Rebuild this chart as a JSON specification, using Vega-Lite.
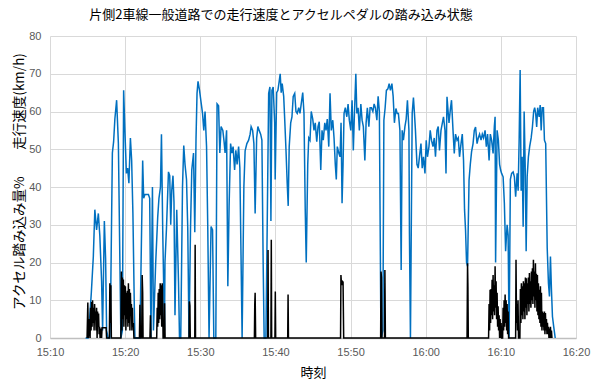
{
"$schema": "https://vega.github.io/schema/vega-lite/v6.json",
"width": 526, "height": 302,
"autosize": {"type": "none"},
"padding": {"left": 50, "top": 36, "right": 20, "bottom": 43},
"background": "white",
"title": {"text": "片側2車線一般道路での走行速度とアクセルペダルの踏み込み状態", "font": "Noto Sans CJK JP", "fontSize": 13, "fontWeight": "normal", "color": "#000000", "anchor": "middle", "dx": -32, "offset": 8},
"config": {"view": {"stroke": null}},
"datasets": {
"speed": [
{"t":"2024-01-01T15:14:44","v":0},{"t":"2024-01-01T15:15:04","v":0},{"t":"2024-01-01T15:15:16","v":5},{"t":"2024-01-01T15:15:30","v":12},{"t":"2024-01-01T15:15:46","v":21.6},{"t":"2024-01-01T15:15:58","v":34},{"t":"2024-01-01T15:16:12","v":28.6},{"t":"2024-01-01T15:16:26","v":33},{"t":"2024-01-01T15:16:38","v":27},{"t":"2024-01-01T15:16:52","v":15},{"t":"2024-01-01T15:17:00","v":2},{"t":"2024-01-01T15:17:14","v":31},{"t":"2024-01-01T15:17:24","v":21},{"t":"2024-01-01T15:17:32","v":2},{"t":"2024-01-01T15:17:44","v":0},{"t":"2024-01-01T15:17:58","v":0},{"t":"2024-01-01T15:18:06","v":15},{"t":"2024-01-01T15:18:18","v":49},{"t":"2024-01-01T15:18:28","v":52},{"t":"2024-01-01T15:18:38","v":58},{"t":"2024-01-01T15:18:52","v":63},{"t":"2024-01-01T15:19:06","v":51.5},{"t":"2024-01-01T15:19:18","v":20},{"t":"2024-01-01T15:19:26","v":0},{"t":"2024-01-01T15:19:38","v":2},{"t":"2024-01-01T15:19:48","v":65.6},{"t":"2024-01-01T15:19:58","v":55},{"t":"2024-01-01T15:20:10","v":43.6},{"t":"2024-01-01T15:20:20","v":45},{"t":"2024-01-01T15:20:30","v":41},{"t":"2024-01-01T15:20:42","v":53},{"t":"2024-01-01T15:20:52","v":47},{"t":"2024-01-01T15:21:02","v":33},{"t":"2024-01-01T15:21:14","v":6.6},{"t":"2024-01-01T15:21:18","v":0},{"t":"2024-01-01T15:21:58","v":0},{"t":"2024-01-01T15:22:20","v":47},{"t":"2024-01-01T15:22:28","v":37},{"t":"2024-01-01T15:22:38","v":38},{"t":"2024-01-01T15:23:06","v":38},{"t":"2024-01-01T15:23:16","v":37},{"t":"2024-01-01T15:23:26","v":0},{"t":"2024-01-01T15:23:38","v":40},{"t":"2024-01-01T15:23:46","v":2},{"t":"2024-01-01T15:24:04","v":20},{"t":"2024-01-01T15:24:20","v":32},{"t":"2024-01-01T15:24:30","v":37},{"t":"2024-01-01T15:24:42","v":40},{"t":"2024-01-01T15:24:50","v":54},{"t":"2024-01-01T15:25:00","v":28.6},{"t":"2024-01-01T15:25:14","v":2},{"t":"2024-01-01T15:25:18","v":20},{"t":"2024-01-01T15:25:30","v":29},{"t":"2024-01-01T15:25:46","v":44},{"t":"2024-01-01T15:25:56","v":43},{"t":"2024-01-01T15:26:04","v":30},{"t":"2024-01-01T15:26:12","v":39},{"t":"2024-01-01T15:26:22","v":43},{"t":"2024-01-01T15:26:30","v":36},{"t":"2024-01-01T15:26:38","v":6},{"t":"2024-01-01T15:26:52","v":34},{"t":"2024-01-01T15:27:06","v":15},{"t":"2024-01-01T15:27:14","v":0},{"t":"2024-01-01T15:27:24","v":0},{"t":"2024-01-01T15:27:38","v":40},{"t":"2024-01-01T15:27:48","v":51},{"t":"2024-01-01T15:27:58","v":46},{"t":"2024-01-01T15:28:10","v":42},{"t":"2024-01-01T15:28:20","v":29},{"t":"2024-01-01T15:28:30","v":0},{"t":"2024-01-01T15:28:42","v":29},{"t":"2024-01-01T15:28:52","v":44.5},{"t":"2024-01-01T15:29:06","v":49},{"t":"2024-01-01T15:29:16","v":28},{"t":"2024-01-01T15:29:26","v":53},{"t":"2024-01-01T15:29:34","v":64.8},{"t":"2024-01-01T15:29:42","v":68},{"t":"2024-01-01T15:29:54","v":65.6},{"t":"2024-01-01T15:30:04","v":63},{"t":"2024-01-01T15:30:18","v":59.5},{"t":"2024-01-01T15:30:28","v":55},{"t":"2024-01-01T15:30:38","v":60},{"t":"2024-01-01T15:30:50","v":50.7},{"t":"2024-01-01T15:31:00","v":28.6},{"t":"2024-01-01T15:31:10","v":0},{"t":"2024-01-01T15:31:26","v":29.5},{"t":"2024-01-01T15:31:38","v":28.6},{"t":"2024-01-01T15:31:48","v":0},{"t":"2024-01-01T15:32:04","v":0},{"t":"2024-01-01T15:32:14","v":62},{"t":"2024-01-01T15:32:26","v":61.5},{"t":"2024-01-01T15:32:36","v":49},{"t":"2024-01-01T15:32:46","v":56},{"t":"2024-01-01T15:33:00","v":55},{"t":"2024-01-01T15:33:10","v":52},{"t":"2024-01-01T15:33:18","v":49},{"t":"2024-01-01T15:33:30","v":55},{"t":"2024-01-01T15:33:40","v":13.7},{"t":"2024-01-01T15:33:50","v":35},{"t":"2024-01-01T15:34:02","v":51.5},{"t":"2024-01-01T15:34:12","v":49},{"t":"2024-01-01T15:34:22","v":50.7},{"t":"2024-01-01T15:34:34","v":44.5},{"t":"2024-01-01T15:34:44","v":49.7},{"t":"2024-01-01T15:34:54","v":46},{"t":"2024-01-01T15:35:06","v":50.7},{"t":"2024-01-01T15:35:16","v":45},{"t":"2024-01-01T15:35:34","v":0},{"t":"2024-01-01T15:35:48","v":40},{"t":"2024-01-01T15:35:58","v":49.6},{"t":"2024-01-01T15:36:12","v":51.5},{"t":"2024-01-01T15:36:26","v":52.4},{"t":"2024-01-01T15:36:38","v":54},{"t":"2024-01-01T15:36:46","v":56},{"t":"2024-01-01T15:36:58","v":55},{"t":"2024-01-01T15:37:08","v":51.5},{"t":"2024-01-01T15:37:18","v":33},{"t":"2024-01-01T15:37:30","v":53},{"t":"2024-01-01T15:37:40","v":56},{"t":"2024-01-01T15:37:50","v":55},{"t":"2024-01-01T15:38:02","v":54},{"t":"2024-01-01T15:38:12","v":52.4},{"t":"2024-01-01T15:38:22","v":20},{"t":"2024-01-01T15:38:30","v":0},{"t":"2024-01-01T15:38:44","v":0},{"t":"2024-01-01T15:38:54","v":28.6},{"t":"2024-01-01T15:39:06","v":64.8},{"t":"2024-01-01T15:39:16","v":66.5},{"t":"2024-01-01T15:39:24","v":31},{"t":"2024-01-01T15:39:32","v":65.6},{"t":"2024-01-01T15:39:42","v":66.5},{"t":"2024-01-01T15:39:54","v":57},{"t":"2024-01-01T15:39:58","v":42},{"t":"2024-01-01T15:40:10","v":65},{"t":"2024-01-01T15:40:20","v":65.6},{"t":"2024-01-01T15:40:30","v":68},{"t":"2024-01-01T15:40:38","v":70},{"t":"2024-01-01T15:40:46","v":65},{"t":"2024-01-01T15:40:54","v":67.4},{"t":"2024-01-01T15:41:06","v":64},{"t":"2024-01-01T15:41:14","v":58},{"t":"2024-01-01T15:41:24","v":50},{"t":"2024-01-01T15:41:34","v":41},{"t":"2024-01-01T15:41:42","v":35},{"t":"2024-01-01T15:41:50","v":50.7},{"t":"2024-01-01T15:42:02","v":57},{"t":"2024-01-01T15:42:12","v":58.6},{"t":"2024-01-01T15:42:22","v":64},{"t":"2024-01-01T15:42:34","v":64.8},{"t":"2024-01-01T15:42:44","v":60},{"t":"2024-01-01T15:42:54","v":59.5},{"t":"2024-01-01T15:43:06","v":61},{"t":"2024-01-01T15:43:16","v":59.5},{"t":"2024-01-01T15:43:26","v":62},{"t":"2024-01-01T15:43:38","v":65},{"t":"2024-01-01T15:43:48","v":59.5},{"t":"2024-01-01T15:43:58","v":34},{"t":"2024-01-01T15:44:06","v":20},{"t":"2024-01-01T15:44:18","v":46},{"t":"2024-01-01T15:44:26","v":53},{"t":"2024-01-01T15:44:36","v":52.4},{"t":"2024-01-01T15:44:46","v":60},{"t":"2024-01-01T15:44:58","v":58},{"t":"2024-01-01T15:45:08","v":55},{"t":"2024-01-01T15:45:18","v":57},{"t":"2024-01-01T15:45:30","v":52},{"t":"2024-01-01T15:45:40","v":56},{"t":"2024-01-01T15:45:50","v":57.3},{"t":"2024-01-01T15:46:02","v":44.5},{"t":"2024-01-01T15:46:12","v":55},{"t":"2024-01-01T15:46:22","v":52.4},{"t":"2024-01-01T15:46:34","v":57},{"t":"2024-01-01T15:46:44","v":55},{"t":"2024-01-01T15:46:54","v":58},{"t":"2024-01-01T15:47:06","v":50.7},{"t":"2024-01-01T15:47:16","v":64.8},{"t":"2024-01-01T15:47:26","v":55},{"t":"2024-01-01T15:47:38","v":57.7},{"t":"2024-01-01T15:47:48","v":53},{"t":"2024-01-01T15:47:58","v":46},{"t":"2024-01-01T15:48:06","v":42},{"t":"2024-01-01T15:48:14","v":50.7},{"t":"2024-01-01T15:48:26","v":49},{"t":"2024-01-01T15:48:36","v":48},{"t":"2024-01-01T15:48:44","v":57},{"t":"2024-01-01T15:48:52","v":35.7},{"t":"2024-01-01T15:49:00","v":46},{"t":"2024-01-01T15:49:08","v":59.5},{"t":"2024-01-01T15:49:18","v":61},{"t":"2024-01-01T15:49:30","v":58.6},{"t":"2024-01-01T15:49:40","v":62},{"t":"2024-01-01T15:49:50","v":57.7},{"t":"2024-01-01T15:50:02","v":55},{"t":"2024-01-01T15:50:12","v":63},{"t":"2024-01-01T15:50:22","v":49.7},{"t":"2024-01-01T15:50:30","v":58.6},{"t":"2024-01-01T15:50:42","v":70},{"t":"2024-01-01T15:50:50","v":59.5},{"t":"2024-01-01T15:51:00","v":61},{"t":"2024-01-01T15:51:10","v":55},{"t":"2024-01-01T15:51:22","v":62},{"t":"2024-01-01T15:51:32","v":57.7},{"t":"2024-01-01T15:51:42","v":56},{"t":"2024-01-01T15:51:54","v":47},{"t":"2024-01-01T15:52:04","v":57},{"t":"2024-01-01T15:52:14","v":61},{"t":"2024-01-01T15:52:26","v":56},{"t":"2024-01-01T15:52:36","v":61},{"t":"2024-01-01T15:52:46","v":61},{"t":"2024-01-01T15:52:58","v":60},{"t":"2024-01-01T15:53:08","v":62},{"t":"2024-01-01T15:53:18","v":61},{"t":"2024-01-01T15:53:30","v":57.7},{"t":"2024-01-01T15:53:40","v":64},{"t":"2024-01-01T15:53:50","v":60},{"t":"2024-01-01T15:54:02","v":2},{"t":"2024-01-01T15:54:06","v":0},{"t":"2024-01-01T15:54:18","v":2},{"t":"2024-01-01T15:54:26","v":57.7},{"t":"2024-01-01T15:54:36","v":61},{"t":"2024-01-01T15:54:46","v":65.6},{"t":"2024-01-01T15:54:58","v":66},{"t":"2024-01-01T15:55:08","v":67.4},{"t":"2024-01-01T15:55:18","v":65.6},{"t":"2024-01-01T15:55:30","v":67.4},{"t":"2024-01-01T15:55:40","v":64},{"t":"2024-01-01T15:55:50","v":57},{"t":"2024-01-01T15:56:02","v":60.8},{"t":"2024-01-01T15:56:12","v":59.5},{"t":"2024-01-01T15:56:22","v":59.5},{"t":"2024-01-01T15:56:34","v":55},{"t":"2024-01-01T15:56:44","v":18},{"t":"2024-01-01T15:56:52","v":55},{"t":"2024-01-01T15:57:02","v":52.4},{"t":"2024-01-01T15:57:14","v":56},{"t":"2024-01-01T15:57:24","v":58},{"t":"2024-01-01T15:57:34","v":63},{"t":"2024-01-01T15:57:46","v":55},{"t":"2024-01-01T15:57:50","v":28},{"t":"2024-01-01T15:57:58","v":0},{"t":"2024-01-01T15:58:12","v":59.5},{"t":"2024-01-01T15:58:22","v":63.7},{"t":"2024-01-01T15:58:30","v":59.5},{"t":"2024-01-01T15:58:38","v":55},{"t":"2024-01-01T15:58:50","v":46},{"t":"2024-01-01T15:59:00","v":45},{"t":"2024-01-01T15:59:10","v":48},{"t":"2024-01-01T15:59:22","v":51.5},{"t":"2024-01-01T15:59:32","v":45},{"t":"2024-01-01T15:59:42","v":48},{"t":"2024-01-01T15:59:54","v":43.6},{"t":"2024-01-01T16:00:04","v":52.4},{"t":"2024-01-01T16:00:14","v":48},{"t":"2024-01-01T16:00:26","v":50.7},{"t":"2024-01-01T16:00:36","v":55},{"t":"2024-01-01T16:00:46","v":52.4},{"t":"2024-01-01T16:00:58","v":50.7},{"t":"2024-01-01T16:01:08","v":53},{"t":"2024-01-01T16:01:18","v":48},{"t":"2024-01-01T16:01:30","v":55},{"t":"2024-01-01T16:01:40","v":56},{"t":"2024-01-01T16:01:50","v":49.7},{"t":"2024-01-01T16:02:02","v":55},{"t":"2024-01-01T16:02:12","v":56.8},{"t":"2024-01-01T16:02:22","v":58.6},{"t":"2024-01-01T16:02:34","v":55},{"t":"2024-01-01T16:02:42","v":43.6},{"t":"2024-01-01T16:02:50","v":63.9},{"t":"2024-01-01T16:02:58","v":60.3},{"t":"2024-01-01T16:03:06","v":57},{"t":"2024-01-01T16:03:16","v":60.3},{"t":"2024-01-01T16:03:26","v":63},{"t":"2024-01-01T16:03:38","v":55},{"t":"2024-01-01T16:03:48","v":48.9},{"t":"2024-01-01T16:03:58","v":54},{"t":"2024-01-01T16:04:10","v":52.4},{"t":"2024-01-01T16:04:20","v":53},{"t":"2024-01-01T16:04:30","v":48},{"t":"2024-01-01T16:04:42","v":51.5},{"t":"2024-01-01T16:04:52","v":54},{"t":"2024-01-01T16:05:02","v":47},{"t":"2024-01-01T16:05:10","v":34},{"t":"2024-01-01T16:05:18","v":28.6},{"t":"2024-01-01T16:05:26","v":20},{"t":"2024-01-01T16:05:34","v":19},{"t":"2024-01-01T16:05:46","v":41.8},{"t":"2024-01-01T16:05:56","v":46},{"t":"2024-01-01T16:06:06","v":49.3},{"t":"2024-01-01T16:06:18","v":51.5},{"t":"2024-01-01T16:06:28","v":55},{"t":"2024-01-01T16:06:38","v":55.9},{"t":"2024-01-01T16:06:50","v":51.5},{"t":"2024-01-01T16:07:00","v":53},{"t":"2024-01-01T16:07:10","v":54},{"t":"2024-01-01T16:07:22","v":52.4},{"t":"2024-01-01T16:07:32","v":54},{"t":"2024-01-01T16:07:42","v":53},{"t":"2024-01-01T16:07:54","v":55},{"t":"2024-01-01T16:08:04","v":50.7},{"t":"2024-01-01T16:08:14","v":54},{"t":"2024-01-01T16:08:26","v":47},{"t":"2024-01-01T16:08:36","v":54},{"t":"2024-01-01T16:08:46","v":52.4},{"t":"2024-01-01T16:08:58","v":48.9},{"t":"2024-01-01T16:09:08","v":56},{"t":"2024-01-01T16:09:14","v":58.6},{"t":"2024-01-01T16:09:18","v":20},{"t":"2024-01-01T16:09:30","v":55},{"t":"2024-01-01T16:09:40","v":52.4},{"t":"2024-01-01T16:09:50","v":46},{"t":"2024-01-01T16:09:58","v":44.5},{"t":"2024-01-01T16:10:06","v":43.6},{"t":"2024-01-01T16:10:18","v":42.7},{"t":"2024-01-01T16:10:28","v":35.7},{"t":"2024-01-01T16:10:38","v":23},{"t":"2024-01-01T16:10:50","v":30},{"t":"2024-01-01T16:10:58","v":27.3},{"t":"2024-01-01T16:11:06","v":0},{"t":"2024-01-01T16:11:16","v":42},{"t":"2024-01-01T16:11:26","v":43.6},{"t":"2024-01-01T16:11:38","v":44},{"t":"2024-01-01T16:11:48","v":42.7},{"t":"2024-01-01T16:11:58","v":37.4},{"t":"2024-01-01T16:12:10","v":43.6},{"t":"2024-01-01T16:12:18","v":39},{"t":"2024-01-01T16:12:26","v":52.4},{"t":"2024-01-01T16:12:34","v":71},{"t":"2024-01-01T16:12:42","v":39},{"t":"2024-01-01T16:12:50","v":48},{"t":"2024-01-01T16:12:58","v":29.5},{"t":"2024-01-01T16:13:06","v":60},{"t":"2024-01-01T16:13:14","v":46},{"t":"2024-01-01T16:13:22","v":23},{"t":"2024-01-01T16:13:30","v":42.7},{"t":"2024-01-01T16:13:40","v":48},{"t":"2024-01-01T16:13:50","v":50.7},{"t":"2024-01-01T16:14:02","v":53},{"t":"2024-01-01T16:14:12","v":55.9},{"t":"2024-01-01T16:14:22","v":60},{"t":"2024-01-01T16:14:30","v":61},{"t":"2024-01-01T16:14:38","v":59.5},{"t":"2024-01-01T16:14:46","v":55.9},{"t":"2024-01-01T16:14:54","v":61},{"t":"2024-01-01T16:15:06","v":58.6},{"t":"2024-01-01T16:15:14","v":61.7},{"t":"2024-01-01T16:15:22","v":55},{"t":"2024-01-01T16:15:30","v":61},{"t":"2024-01-01T16:15:40","v":61},{"t":"2024-01-01T16:15:48","v":52.4},{"t":"2024-01-01T16:15:58","v":51.5},{"t":"2024-01-01T16:16:10","v":24},{"t":"2024-01-01T16:16:20","v":14.5},{"t":"2024-01-01T16:16:28","v":11},{"t":"2024-01-01T16:16:36","v":21.6},{"t":"2024-01-01T16:16:44","v":12.8},{"t":"2024-01-01T16:16:52","v":5.7},{"t":"2024-01-01T16:17:02","v":3},{"t":"2024-01-01T16:17:14","v":0}
],
"pedal": [
{"t":"2024-01-01T15:14:56","v":0},{"t":"2024-01-01T15:15:02","v":9.4},{"t":"2024-01-01T15:15:06","v":0},{"t":"2024-01-01T15:15:12","v":3},{"t":"2024-01-01T15:15:16","v":5},{"t":"2024-01-01T15:15:20","v":0},{"t":"2024-01-01T15:15:24","v":8},{"t":"2024-01-01T15:15:28","v":2},{"t":"2024-01-01T15:15:32","v":9.5},{"t":"2024-01-01T15:15:36","v":3},{"t":"2024-01-01T15:15:40","v":10},{"t":"2024-01-01T15:15:44","v":4},{"t":"2024-01-01T15:15:48","v":8},{"t":"2024-01-01T15:15:52","v":2},{"t":"2024-01-01T15:15:56","v":9},{"t":"2024-01-01T15:16:00","v":5},{"t":"2024-01-01T15:16:04","v":7},{"t":"2024-01-01T15:16:08","v":2},{"t":"2024-01-01T15:16:12","v":8},{"t":"2024-01-01T15:16:16","v":0},{"t":"2024-01-01T15:16:20","v":7},{"t":"2024-01-01T15:16:24","v":3},{"t":"2024-01-01T15:16:28","v":6.5},{"t":"2024-01-01T15:16:32","v":1},{"t":"2024-01-01T15:16:36","v":3},{"t":"2024-01-01T15:16:40","v":0},{"t":"2024-01-01T15:16:44","v":2.5},{"t":"2024-01-01T15:16:52","v":0},{"t":"2024-01-01T15:16:56","v":2.7},{"t":"2024-01-01T15:17:28","v":2.7},{"t":"2024-01-01T15:17:32","v":0},
{"t":"2024-01-01T15:17:54","v":0},{"t":"2024-01-01T15:17:58","v":14.5},{"t":"2024-01-01T15:18:02","v":4},{"t":"2024-01-01T15:18:06","v":14},{"t":"2024-01-01T15:18:10","v":0},
{"t":"2024-01-01T15:19:26","v":0},{"t":"2024-01-01T15:19:30","v":17.6},{"t":"2024-01-01T15:19:34","v":2},{"t":"2024-01-01T15:19:38","v":16},{"t":"2024-01-01T15:19:42","v":5},{"t":"2024-01-01T15:19:46","v":15.5},{"t":"2024-01-01T15:19:50","v":3},{"t":"2024-01-01T15:19:54","v":14},{"t":"2024-01-01T15:19:58","v":6},{"t":"2024-01-01T15:20:02","v":13.7},{"t":"2024-01-01T15:20:06","v":2},{"t":"2024-01-01T15:20:10","v":12},{"t":"2024-01-01T15:20:14","v":5},{"t":"2024-01-01T15:20:18","v":12.5},{"t":"2024-01-01T15:20:22","v":3},{"t":"2024-01-01T15:20:26","v":14.5},{"t":"2024-01-01T15:20:30","v":4},{"t":"2024-01-01T15:20:34","v":13},{"t":"2024-01-01T15:20:38","v":2},{"t":"2024-01-01T15:20:42","v":12},{"t":"2024-01-01T15:20:46","v":6},{"t":"2024-01-01T15:20:50","v":9},{"t":"2024-01-01T15:20:54","v":2},{"t":"2024-01-01T15:20:58","v":8},{"t":"2024-01-01T15:21:02","v":3},{"t":"2024-01-01T15:21:06","v":4},{"t":"2024-01-01T15:21:10","v":0},
{"t":"2024-01-01T15:21:54","v":0},{"t":"2024-01-01T15:21:58","v":8.8},{"t":"2024-01-01T15:22:02","v":0},{"t":"2024-01-01T15:22:12","v":0},{"t":"2024-01-01T15:22:16","v":16.7},{"t":"2024-01-01T15:22:20","v":12},{"t":"2024-01-01T15:22:23","v":0},
{"t":"2024-01-01T15:23:18","v":0},{"t":"2024-01-01T15:23:22","v":6},{"t":"2024-01-01T15:23:26","v":0},
{"t":"2024-01-01T15:24:12","v":0},{"t":"2024-01-01T15:24:16","v":8},{"t":"2024-01-01T15:24:20","v":3},{"t":"2024-01-01T15:24:24","v":12},{"t":"2024-01-01T15:24:28","v":4},{"t":"2024-01-01T15:24:32","v":13},{"t":"2024-01-01T15:24:36","v":5},{"t":"2024-01-01T15:24:40","v":14.5},{"t":"2024-01-01T15:24:44","v":6},{"t":"2024-01-01T15:24:48","v":14},{"t":"2024-01-01T15:24:52","v":3},{"t":"2024-01-01T15:24:56","v":14.5},{"t":"2024-01-01T15:25:00","v":9},{"t":"2024-01-01T15:25:03","v":0},
{"t":"2024-01-01T15:25:12","v":0},{"t":"2024-01-01T15:25:15","v":9.2},{"t":"2024-01-01T15:25:19","v":0},
{"t":"2024-01-01T15:28:30","v":0},{"t":"2024-01-01T15:28:33","v":9.7},{"t":"2024-01-01T15:28:37","v":8.5},{"t":"2024-01-01T15:28:40","v":0},
{"t":"2024-01-01T15:29:16","v":0},{"t":"2024-01-01T15:29:19","v":24.7},{"t":"2024-01-01T15:29:22","v":0},
{"t":"2024-01-01T15:37:12","v":0},{"t":"2024-01-01T15:37:15","v":9},{"t":"2024-01-01T15:37:18","v":12},{"t":"2024-01-01T15:37:22","v":0},
{"t":"2024-01-01T15:38:58","v":0},{"t":"2024-01-01T15:39:01","v":23.3},{"t":"2024-01-01T15:39:04","v":0},
{"t":"2024-01-01T15:39:24","v":0},{"t":"2024-01-01T15:39:27","v":26},{"t":"2024-01-01T15:39:30","v":0},
{"t":"2024-01-01T15:39:56","v":0},{"t":"2024-01-01T15:39:59","v":12.3},{"t":"2024-01-01T15:40:02","v":0},
{"t":"2024-01-01T15:41:38","v":0},{"t":"2024-01-01T15:41:41","v":11.5},{"t":"2024-01-01T15:41:44","v":0},
{"t":"2024-01-01T15:48:40","v":0},{"t":"2024-01-01T15:48:43","v":16.7},{"t":"2024-01-01T15:48:48","v":14},{"t":"2024-01-01T15:48:54","v":15},{"t":"2024-01-01T15:49:00","v":14.8},{"t":"2024-01-01T15:49:05","v":0},
{"t":"2024-01-01T15:54:00","v":0},{"t":"2024-01-01T15:54:03","v":17.6},{"t":"2024-01-01T15:54:07","v":16},{"t":"2024-01-01T15:54:10","v":0},
{"t":"2024-01-01T15:54:31","v":0},{"t":"2024-01-01T15:54:34","v":18},{"t":"2024-01-01T15:54:38","v":0},
{"t":"2024-01-01T16:05:30","v":0},{"t":"2024-01-01T16:05:34","v":19.8},{"t":"2024-01-01T16:05:37","v":13.7},{"t":"2024-01-01T16:05:40","v":0},
{"t":"2024-01-01T16:08:22","v":0},{"t":"2024-01-01T16:08:26","v":9},{"t":"2024-01-01T16:08:30","v":2},{"t":"2024-01-01T16:08:34","v":12.8},{"t":"2024-01-01T16:08:38","v":4},{"t":"2024-01-01T16:08:42","v":13},{"t":"2024-01-01T16:08:46","v":6},{"t":"2024-01-01T16:08:50","v":15.4},{"t":"2024-01-01T16:08:54","v":5},{"t":"2024-01-01T16:08:58","v":16.7},{"t":"2024-01-01T16:09:02","v":7},{"t":"2024-01-01T16:09:06","v":14},{"t":"2024-01-01T16:09:10","v":6},{"t":"2024-01-01T16:09:14","v":19},{"t":"2024-01-01T16:09:18","v":8},{"t":"2024-01-01T16:09:22","v":15},{"t":"2024-01-01T16:09:26","v":5},{"t":"2024-01-01T16:09:30","v":12},{"t":"2024-01-01T16:09:34","v":3},{"t":"2024-01-01T16:09:38","v":8.4},{"t":"2024-01-01T16:09:42","v":2},{"t":"2024-01-01T16:09:46","v":6},{"t":"2024-01-01T16:09:50","v":0},{"t":"2024-01-01T16:09:54","v":5},{"t":"2024-01-01T16:09:58","v":0},{"t":"2024-01-01T16:10:02","v":4},{"t":"2024-01-01T16:10:06","v":0},
{"t":"2024-01-01T16:10:14","v":0},{"t":"2024-01-01T16:10:18","v":8},{"t":"2024-01-01T16:10:22","v":2},{"t":"2024-01-01T16:10:26","v":10},{"t":"2024-01-01T16:10:30","v":3},{"t":"2024-01-01T16:10:34","v":11.5},{"t":"2024-01-01T16:10:38","v":4},{"t":"2024-01-01T16:10:42","v":10},{"t":"2024-01-01T16:10:46","v":2},{"t":"2024-01-01T16:10:50","v":9},{"t":"2024-01-01T16:10:54","v":1},{"t":"2024-01-01T16:10:58","v":7},{"t":"2024-01-01T16:11:02","v":0},
{"t":"2024-01-01T16:11:58","v":0},{"t":"2024-01-01T16:12:01","v":20.7},{"t":"2024-01-01T16:12:05","v":4},{"t":"2024-01-01T16:12:09","v":9},{"t":"2024-01-01T16:12:13","v":2},{"t":"2024-01-01T16:12:17","v":10},{"t":"2024-01-01T16:12:21","v":0},
{"t":"2024-01-01T16:12:32","v":0},{"t":"2024-01-01T16:12:36","v":13},{"t":"2024-01-01T16:12:40","v":4},{"t":"2024-01-01T16:12:44","v":14.5},{"t":"2024-01-01T16:12:48","v":6},{"t":"2024-01-01T16:12:52","v":13.7},{"t":"2024-01-01T16:12:56","v":5},{"t":"2024-01-01T16:13:00","v":15},{"t":"2024-01-01T16:13:04","v":7},{"t":"2024-01-01T16:13:08","v":14.5},{"t":"2024-01-01T16:13:12","v":5},{"t":"2024-01-01T16:13:16","v":16},{"t":"2024-01-01T16:13:20","v":8},{"t":"2024-01-01T16:13:24","v":15.8},{"t":"2024-01-01T16:13:28","v":6},{"t":"2024-01-01T16:13:32","v":14.5},{"t":"2024-01-01T16:13:36","v":9},{"t":"2024-01-01T16:13:40","v":16},{"t":"2024-01-01T16:13:44","v":7},{"t":"2024-01-01T16:13:48","v":17.2},{"t":"2024-01-01T16:13:52","v":9},{"t":"2024-01-01T16:13:56","v":15},{"t":"2024-01-01T16:14:00","v":8},{"t":"2024-01-01T16:14:04","v":17.6},{"t":"2024-01-01T16:14:08","v":10},{"t":"2024-01-01T16:14:12","v":18.5},{"t":"2024-01-01T16:14:16","v":9},{"t":"2024-01-01T16:14:20","v":20.7},{"t":"2024-01-01T16:14:24","v":11},{"t":"2024-01-01T16:14:28","v":17.6},{"t":"2024-01-01T16:14:32","v":8},{"t":"2024-01-01T16:14:36","v":19.8},{"t":"2024-01-01T16:14:40","v":10},{"t":"2024-01-01T16:14:44","v":17},{"t":"2024-01-01T16:14:48","v":7},{"t":"2024-01-01T16:14:52","v":16.7},{"t":"2024-01-01T16:14:56","v":6},{"t":"2024-01-01T16:15:00","v":14.5},{"t":"2024-01-01T16:15:04","v":5},{"t":"2024-01-01T16:15:08","v":12.8},{"t":"2024-01-01T16:15:12","v":4},{"t":"2024-01-01T16:15:16","v":13.7},{"t":"2024-01-01T16:15:20","v":3},{"t":"2024-01-01T16:15:24","v":12},{"t":"2024-01-01T16:15:28","v":2},{"t":"2024-01-01T16:15:32","v":7},{"t":"2024-01-01T16:15:36","v":3},{"t":"2024-01-01T16:15:40","v":6.6},{"t":"2024-01-01T16:15:44","v":2},{"t":"2024-01-01T16:15:48","v":7},{"t":"2024-01-01T16:15:52","v":1},{"t":"2024-01-01T16:15:56","v":6.6},{"t":"2024-01-01T16:16:00","v":2},{"t":"2024-01-01T16:16:04","v":5},{"t":"2024-01-01T16:16:08","v":1},{"t":"2024-01-01T16:16:12","v":4},{"t":"2024-01-01T16:16:16","v":1},{"t":"2024-01-01T16:16:20","v":3},{"t":"2024-01-01T16:16:24","v":0},{"t":"2024-01-01T16:16:28","v":2.5},{"t":"2024-01-01T16:16:32","v":0},{"t":"2024-01-01T16:16:36","v":3},{"t":"2024-01-01T16:16:40","v":0},{"t":"2024-01-01T16:16:44","v":2},{"t":"2024-01-01T16:16:48","v":0}
]
},
"encoding": {
"x": {"field": "t", "type": "temporal", "scale": {"domain": [{"year": 2024, "month": 1, "date": 1, "hours": 15, "minutes": 10}, {"year": 2024, "month": 1, "date": 1, "hours": 16, "minutes": 20}], "nice": false},
"axis": {"title": "時刻", "format": "%H:%M", "values": [{"year": 2024, "month": 1, "date": 1, "hours": 15, "minutes": 10}, {"year": 2024, "month": 1, "date": 1, "hours": 15, "minutes": 20}, {"year": 2024, "month": 1, "date": 1, "hours": 15, "minutes": 30}, {"year": 2024, "month": 1, "date": 1, "hours": 15, "minutes": 40}, {"year": 2024, "month": 1, "date": 1, "hours": 15, "minutes": 50}, {"year": 2024, "month": 1, "date": 1, "hours": 16, "minutes": 0}, {"year": 2024, "month": 1, "date": 1, "hours": 16, "minutes": 10}, {"year": 2024, "month": 1, "date": 1, "hours": 16, "minutes": 20}], "grid": true, "gridColor": "#d9d9d9", "gridWidth": 1, "ticks": false, "domainColor": "#bfbfbf", "domainWidth": 1.5, "labelColor": "#595959", "labelFont": "Liberation Sans", "labelFontSize": 11, "labelPadding": 8, "labelFlush": false, "labelOverlap": false, "titleFont": "Noto Sans CJK JP", "titleFontSize": 13, "titleFontWeight": "normal", "titleColor": "#000000", "titleY": 34, "titleBaseline": "middle"}},
"y": {"field": "v", "type": "quantitative", "scale": {"domain": [0, 80], "nice": false},
"axis": {"title": "アクセル踏み込み量%　　走行速度(km/h)", "values": [0, 10, 20, 30, 40, 50, 60, 70, 80], "grid": true, "gridColor": "#d9d9d9", "gridWidth": 1, "domain": false, "ticks": false, "labelColor": "#595959", "labelFont": "Liberation Sans", "labelFontSize": 11, "labelPadding": 9, "labelOverlap": false, "labelFlush": false, "titleFont": "Noto Sans CJK JP", "titleFontSize": 13.5, "titleFontWeight": "normal", "titleColor": "#000000", "titleAngle": 270, "titleX": -31, "titleY": 145, "titleAlign": "center", "titleBaseline": "middle"}}
},
"layer": [
{"data": {"name": "speed"}, "mark": {"type": "line", "color": "#0070C0", "strokeWidth": 1.5}},
{"data": {"name": "pedal"}, "mark": {"type": "line", "color": "#000000", "strokeWidth": 1.5}}
]
}
